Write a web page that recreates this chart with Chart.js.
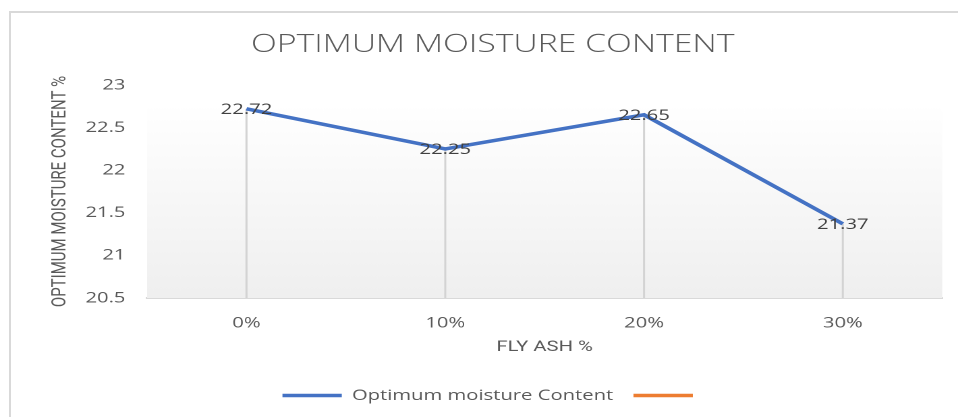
<!DOCTYPE html>
<html>
<head>
<meta charset="utf-8">
<script src="https://cdn.jsdelivr.net/npm/chart.js@4"></script>
<style>
  body { margin: 0; background: #fff; }
  #wrap { position: relative; width: 958px; height: 417px; overflow: hidden; }
  #frame { position: absolute; left: 9px; top: 11px; width: 1000px; height: 500px;
           border-left: 2px solid #d9d9d9; border-top: 2px solid #d9d9d9; }
  #c { position: absolute; left: 0; top: 0; }
</style>
</head>
<body>
<div id="wrap">
  <div id="frame"></div>
  <!-- drawn narrow, then stretched sideways like the source picture -->
  <canvas id="c" width="710" height="417" style="width:958px;height:417px"></canvas>
</div>
<script>
const flyAsh = ['0%', '10%', '20%', '30%'];
const moisture = [22.72, 22.25, 22.65, 21.37];
const yTicks = [20.5, 21, 21.5, 22, 22.5, 23];

const grey = '#595959';

// soft grey fade behind the plot
const plotShade = {
  id: 'plotShade',
  beforeDatasetsDraw(chart) {
    const { ctx, chartArea: { left, right, top, bottom } } = chart;
    const y0 = top + 22;
    const g = ctx.createLinearGradient(0, y0, 0, bottom);
    g.addColorStop(0, '#ffffff');
    g.addColorStop(1, '#efefef');
    ctx.save();
    ctx.fillStyle = g;
    ctx.fillRect(left, y0, right - left, bottom - y0);
    // drop lines from each point down to the axis
    const meta = chart.getDatasetMeta(0);
    ctx.strokeStyle = '#d3d3d3';
    ctx.lineWidth = 1.5;
    meta.data.forEach(pt => {
      ctx.beginPath();
      ctx.moveTo(pt.x, pt.y);
      ctx.lineTo(pt.x, bottom);
      ctx.stroke();
    });
    ctx.restore();
  }
};

// value labels sitting on the points
const valueLabels = {
  id: 'valueLabels',
  afterDatasetsDraw(chart) {
    const { ctx } = chart;
    const meta = chart.getDatasetMeta(0);
    ctx.save();
    ctx.font = '15px "Open Sans"';
    ctx.fillStyle = '#404040';
    ctx.textAlign = 'center';
    ctx.textBaseline = 'middle';
    meta.data.forEach((pt, i) => {
      ctx.fillText(String(moisture[i]), pt.x, pt.y + 1);
    });
    ctx.restore();
  }
};

new Chart(document.getElementById('c'), {
  type: 'line',
  data: {
    labels: flyAsh,
    datasets: [{
      label: 'Optimum moisture Content',
      data: moisture,
      borderColor: '#4472C4',
      backgroundColor: '#4472C4',
      borderWidth: 3.5,
      pointRadius: 0,
      tension: 0
    }, {
      label: '',
      data: [],
      borderColor: '#ED7D31',
      backgroundColor: '#ED7D31',
      borderWidth: 3.5,
      pointRadius: 0
    }]
  },
  options: {
    responsive: false,
    devicePixelRatio: 2,
    animation: false,
    layout: { padding: { left: 32, right: 11.7, top: 14, bottom: 4 } },
    plugins: {
      title: {
        display: true,
        text: 'OPTIMUM MOISTURE CONTENT',
        color: grey,
        font: { family: 'Open Sans', size: 25, weight: 300 },
        padding: { top: 16, bottom: 25 }
      },
      legend: {
        position: 'bottom',
        labels: {
          usePointStyle: true,
          pointStyle: 'line',
          pointStyleWidth: 44,
          boxHeight: 4,
          padding: 15,
          color: grey,
          font: { family: 'Open Sans', size: 15 }
        }
      },
      tooltip: { enabled: false }
    },
    scales: {
      x: {
        offset: true,
        grid: { display: false, drawTicks: false },
        border: { display: true, color: '#d9d9d9', width: 2 },
        ticks: { color: grey, padding: 16, font: { family: 'Open Sans', size: 15 } },
        title: {
          display: true,
          text: 'FLY ASH %',
          color: grey,
          font: { family: 'Roboto', size: 15 },
          padding: { top: -10, bottom: 17 }
        }
      },
      y: {
        min: 20.5,
        max: 23,
        grid: { display: false, drawTicks: false },
        border: { display: false },
        afterBuildTicks: scale => { scale.ticks = yTicks.map(v => ({ value: v })); },
        afterFit: scale => { scale.width = 77; },
        ticks: {
          color: grey,
          padding: 16,
          font: { family: 'Open Sans', size: 15 },
          callback: v => String(v)
        },
        title: {
          display: true,
          text: 'OPTIMUM MOISTURE CONTENT %',
          color: grey,
          font: { family: 'Roboto', size: 15 },
          padding: { top: 3.5, bottom: 0 }
        }
      }
    }
  },
  plugins: [plotShade, valueLabels]
});
</script>
</body>
</html>
